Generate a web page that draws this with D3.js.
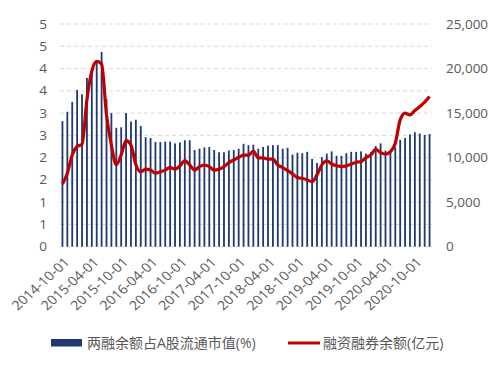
<!DOCTYPE html>
<html>
<head>
<meta charset="utf-8">
<script src="https://cdn.jsdelivr.net/npm/d3@7"></script>
<style>
  body { margin: 0; background: #fff; }
  text { font-family: "Open Sans", "Noto Sans CJK SC", sans-serif; fill: #595959; }
</style>
</head>
<body>
<svg id="chart"></svg>
<script>
const width = 499
const height = 367

// monthly categories, 2014-10 .. 2021-01
const startMonth = new Date(2014, 9, 1)
const ratio = [2.82, 3.03, 3.25, 3.52, 3.42, 3.79, 3.95, 4.15, 4.37, 3.31, 3.0, 2.67, 2.68, 3.0, 2.81, 2.85,
               2.71, 2.46, 2.44, 2.35, 2.35, 2.36, 2.36, 2.32, 2.34, 2.39, 2.39, 2.17, 2.2, 2.23, 2.24, 2.17,
               2.12, 2.12, 2.16, 2.17, 2.2, 2.31, 2.28, 2.29, 2.2, 2.24, 2.27, 2.28, 2.28, 2.2, 2.22, 2.07,
               2.11, 2.1, 2.13, 1.97, 1.88, 2.01, 2.09, 2.14, 2.04, 2.04, 2.1, 2.13, 2.13, 2.14, 2.09, 2.12,
               2.26, 2.32, 2.16, 2.16, 2.23, 2.4, 2.44, 2.52, 2.57, 2.54, 2.51, 2.53]
const balance = [7050, 8250, 10300, 11250, 11500, 16500, 19700, 20800, 20500, 14800, 11400, 9200, 10300, 11900, 11400, 9200,
                 8400, 8700, 8600, 8250, 8400, 8600, 8900, 8700, 9070, 9660, 9180, 8600, 8990, 9150, 8990, 8600,
                 8700, 8990, 9440, 9740, 10040, 10270, 10270, 10720, 9970, 9970, 9820, 9820, 9180, 8880, 8540, 8170,
                 7750, 7680, 7490, 7300, 8060, 9180, 9630, 9290, 9100, 8990, 9070, 9260, 9480, 9550, 10000, 10300,
                 10940, 10560, 10380, 10670, 11620, 14240, 14990, 14800, 15280, 15730, 16220, 16850]
const months = d3.timeMonth.range(startMonth, d3.timeMonth.offset(startMonth, ratio.length))
const leftTicks = d3.range(0, 5.01, 0.5)
const rightTicks = [0, 5000, 10000, 15000, 20000, 25000]
const legendLabels = ["两融余额占A股流通市值(%)", "融资融券余额(亿元)"]

const barColor = "#1f3a70"
const lineColor = "#c00000"

const fmtDate = d3.timeFormat("%Y-%m-%d")

const svg = d3.select("#chart")
              .attr("width", width)
              .attr("height", height)

const x = d3.scaleBand()
            .domain(months.map(fmtDate))
            .range([60, 432])
            .paddingInner(0.63)
            .paddingOuter(0.315)
const yL = d3.scaleLinear().domain([0, 5]).range([246.7, 24])
const yR = d3.scaleLinear().domain([0, 25000]).range([246.7, 24])

// gridlines
svg.append("g")
   .selectAll("line")
   .data(leftTicks)
   .join("line")
     .attr("x1", 60).attr("x2", 432)
     .attr("y1", d => yL(d)).attr("y2", d => yL(d))
     .attr("stroke", "#d9d9d9")
     .attr("stroke-width", 1)
     .attr("stroke-dasharray", "4,3")

// left axis labels (Excel "0" format)
svg.append("g")
   .selectAll("text")
   .data(leftTicks)
   .join("text")
     .attr("transform", d => `translate(47,${yL(d) + 4.5}) scale(1.1,1)`)
     .attr("text-anchor", "end")
     .attr("font-size", 12.5)
     .text(d => Math.round(d))

// right axis labels
svg.append("g")
   .selectAll("text")
   .data(rightTicks)
   .join("text")
     .attr("transform", d => `translate(446,${yR(d) + 4.5}) scale(1.08,1)`)
     .attr("font-size", 12.5)
     .text(d => d3.format(",")(d))

// bars
svg.append("g")
   .selectAll("rect")
   .data(ratio)
   .join("rect")
     .attr("x", (d, i) => x(fmtDate(months[i])))
     .attr("width", x.bandwidth())
     .attr("y", d => yL(d))
     .attr("height", d => yL(0) - yL(d))
     .attr("fill", barColor)

// line
const line = d3.line()
               .x((d, i) => x(fmtDate(months[i])) + x.bandwidth() / 2)
               .y(d => yR(d))
               .curve(d3.curveMonotoneX)

svg.append("path")
   .datum(balance)
   .attr("d", line)
   .attr("fill", "none")
   .attr("stroke", lineColor)
   .attr("stroke-width", 3.2)
   .attr("stroke-linejoin", "round")

// x labels every 6 months
svg.append("g")
   .selectAll("text")
   .data(months.filter((d, i) => i % 6 === 0))
   .join("text")
     .attr("transform", d => `translate(${x(fmtDate(d)) + x.bandwidth() / 2 + 8},263) scale(1.1,1) rotate(-45)`)
     .attr("text-anchor", "end")
     .attr("font-size", 13)
     .text(d => fmtDate(d))

// legend
const legend = svg.append("g")
legend.append("rect")
      .attr("x", 51).attr("y", 339)
      .attr("width", 31).attr("height", 7.5)
      .attr("fill", barColor)
legend.append("text")
      .attr("x", 87).attr("y", 348)
      .attr("font-size", 14)
      .text(legendLabels[0])
legend.append("line")
      .attr("x1", 288).attr("x2", 320)
      .attr("y1", 343).attr("y2", 343)
      .attr("stroke", lineColor)
      .attr("stroke-width", 3)
legend.append("text")
      .attr("x", 323).attr("y", 348)
      .attr("font-size", 14)
      .text(legendLabels[1])
</script>
</body>
</html>
